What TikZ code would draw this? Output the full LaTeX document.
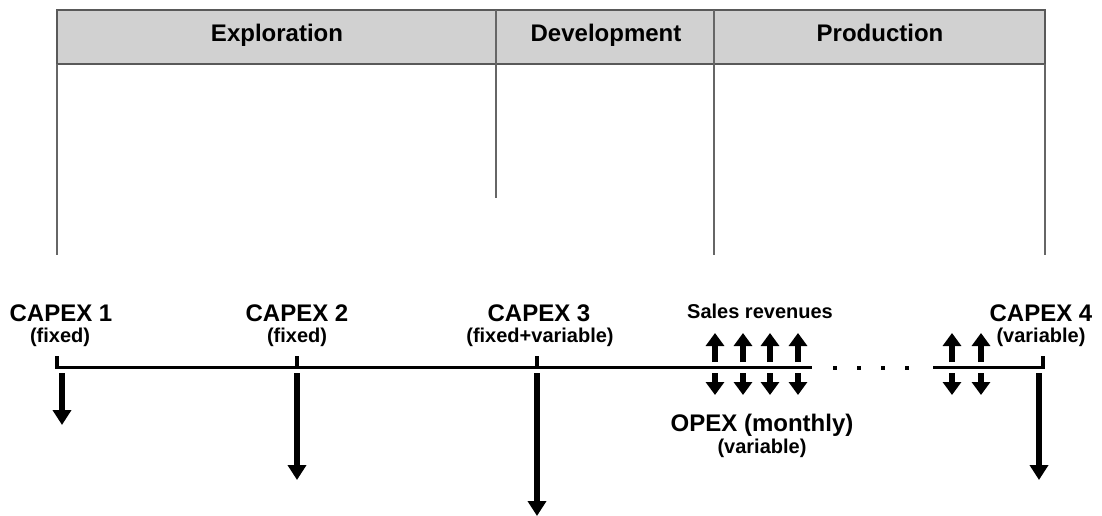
\documentclass[tikz,border=0pt]{standalone}
\usepackage{fontspec}
\setmainfont{Liberation Sans}
\usetikzlibrary{arrows.meta}
\begin{document}
\begin{tikzpicture}[x=1pt,y=-1pt,
 hdr/.style={font=\fontsize{24}{27}\selectfont\bfseries, inner sep=0, anchor=base},
 big/.style={font=\fontsize{24}{27}\selectfont\bfseries, inner sep=0, anchor=base},
 small/.style={font=\fontsize{20}{23}\selectfont\bfseries, inner sep=0, anchor=base},
 sales/.style={font=\fontsize{20}{23}\selectfont\bfseries, inner sep=0, anchor=base},
 vline/.style={draw=black!60, line width=1.5pt},
 hbox/.style={draw=black!65, fill=black!18, line width=2pt},
 tl/.style={line width=3.5pt},
 flow/.style={line width=6pt, -{Triangle[width=18pt,length=15pt]}},
 sflow/.style={line width=6pt, -{Triangle[width=18pt,length=13pt]}},
 dot/.style={fill=black, rectangle, inner sep=0, minimum size=4pt},
]
\useasboundingbox (0,0) rectangle (1102,516);
% header
\draw[hbox] (57,10) rectangle (1045,64);
\draw[vline] (57,64) -- (57,255);
\draw[vline] (496,10) -- (496,198);
\draw[vline] (714,10) -- (714,255);
\draw[vline] (1045,64) -- (1045,255);
\node[hdr] (hexp) at (277,42) {Exploration};
\node[hdr] (hdev) at (606,42) {Development};
\node[hdr] (hpro) at (880,42) {Production};
% labels
\node[big] (c1) at (61,321) {CAPEX 1};
\node[small] (c1s) at (60,342) {(fixed)};
\node[big] (c2) at (297,321) {CAPEX 2};
\node[small] (c2s) at (297,342) {(fixed)};
\node[big] (c3) at (539,321) {CAPEX 3};
\node[small] (c3s) at (540,342) {(fixed+variable)};
\node[sales] (sr) at (760,318) {Sales revenues};
\node[big] (c4) at (1041,321) {CAPEX 4};
\node[small] (c4s) at (1041,342) {(variable)};
\node[big] (op) at (762,431) {OPEX (monthly)};
\node[small] (ops) at (762,453) {(variable)};
% timeline
\coordinate (t0) at (57,367.5);
\coordinate (tA) at (812,367.5);
\coordinate (tB) at (933,367.5);
\coordinate (t1) at (1043,367.5);
\draw[tl] (57,356) -- (t0) -- (tA);
\draw[tl] (tB) -- (t1) -- (1043,356);
\draw[tl] (297,356) -- (297,367.5);
\draw[tl] (537,356) -- (537,367.5);
\foreach \x [count=\i] in {835,859,883,907} \node[dot] (d\i) at (\x,367.5) {};
% capex arrows
\coordinate (a1s) at (62,373); \coordinate (a1e) at (62,425);
\coordinate (a2s) at (297,373); \coordinate (a2e) at (297,480);
\coordinate (a3s) at (537,373); \coordinate (a3e) at (537,516);
\coordinate (a4s) at (1039,373); \coordinate (a4e) at (1039,480);
\draw[flow] (a1s) -- (a1e);
\draw[flow] (a2s) -- (a2e);
\draw[flow] (a3s) -- (a3e);
\draw[flow] (a4s) -- (a4e);
% sales / opex arrows
\foreach \x [count=\i] in {715,743,770,798,952,981} {
  \coordinate (us\i) at (\x,362); \coordinate (ue\i) at (\x,333);
  \coordinate (ds\i) at (\x,373); \coordinate (de\i) at (\x,395);
  \draw[sflow] (us\i) -- (ue\i);
  \draw[sflow] (ds\i) -- (de\i);
}
\end{tikzpicture}
\end{document}
